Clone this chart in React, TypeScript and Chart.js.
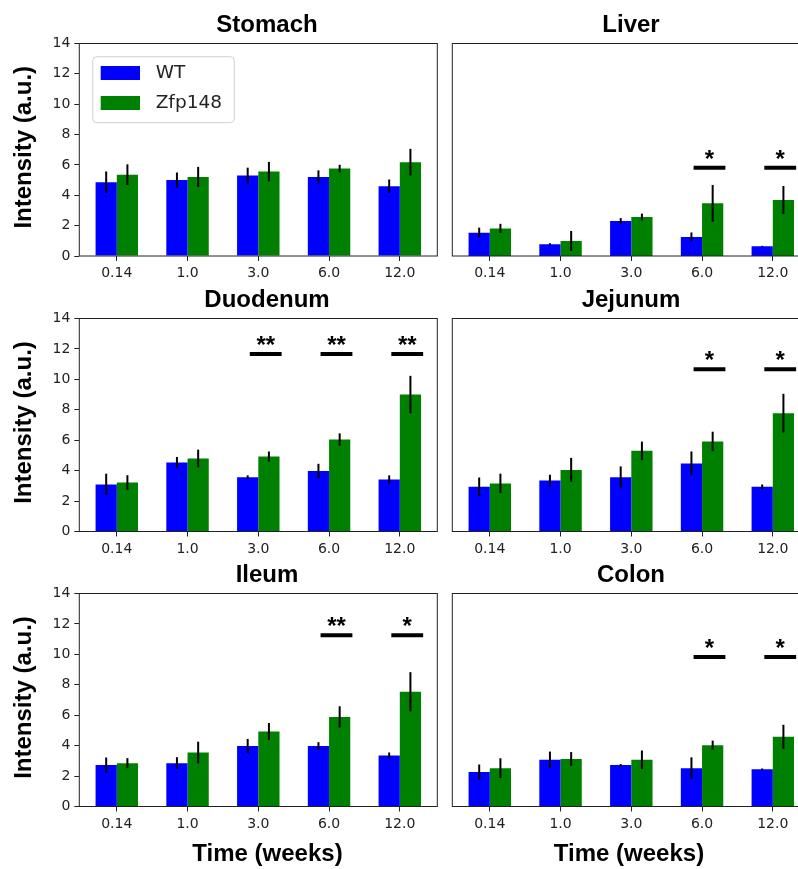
import React, { useEffect, useRef } from "react";
import { Chart, registerables } from "chart.js";

Chart.register(...registerables);

// ---------- data ----------
const timeLabels = ["0.14", "1.0", "3.0", "6.0", "12.0"];
const yTickValues = [0, 2, 4, 6, 8, 10, 12, 14];
const seriesNames = ["WT", "Zfp148"];

const stomachWT = [4.86, 5.0, 5.3, 5.21, 4.6];
const stomachWTErr = [0.71, 0.5, 0.52, 0.43, 0.44];
const stomachZfp = [5.36, 5.21, 5.56, 5.76, 6.18];
const stomachZfpErr = [0.68, 0.66, 0.64, 0.25, 0.88];
const stomachSig = ["", "", "", "", ""];

const liverWT = [1.54, 0.77, 2.31, 1.25, 0.64];
const liverWTErr = [0.33, 0.07, 0.19, 0.3, 0.03];
const liverZfp = [1.82, 0.99, 2.57, 3.47, 3.69];
const liverZfpErr = [0.3, 0.66, 0.22, 1.21, 0.92];
const liverSig = ["", "", "", "*", "*"];
const liverSigY = 5.82;

const duodenumWT = [3.09, 4.54, 3.57, 3.97, 3.42];
const duodenumWTErr = [0.71, 0.36, 0.12, 0.48, 0.27];
const duodenumZfp = [3.22, 4.8, 4.93, 6.05, 9.0];
const duodenumZfpErr = [0.48, 0.58, 0.33, 0.4, 1.23];
const duodenumSig = ["", "", "**", "**", "**"];
const duodenumSigY = 11.66;

const jejunumWT = [2.94, 3.35, 3.57, 4.47, 2.94];
const jejunumWTErr = [0.61, 0.38, 0.71, 0.79, 0.15];
const jejunumZfp = [3.16, 4.05, 5.3, 5.92, 7.78];
const jejunumZfpErr = [0.64, 0.79, 0.61, 0.64, 1.27];
const jejunumSig = ["", "", "", "*", "*"];
const jejunumSigY = 10.67;

const ileumWT = [2.72, 2.85, 3.97, 3.97, 3.35];
const ileumWTErr = [0.5, 0.39, 0.47, 0.26, 0.2];
const ileumZfp = [2.85, 3.55, 4.93, 5.89, 7.54];
const ileumZfpErr = [0.33, 0.71, 0.56, 0.7, 1.29];
const ileumSig = ["", "", "", "**", "*"];
const ileumSigY = 11.26;

const colonWT = [2.26, 3.07, 2.72, 2.52, 2.45];
const colonWTErr = [0.5, 0.54, 0.07, 0.71, 0.05];
const colonZfp = [2.52, 3.13, 3.07, 4.03, 4.58];
const colonZfpErr = [0.65, 0.45, 0.61, 0.3, 0.79];
const colonSig = ["", "", "", "*", "*"];
const colonSigY = 9.82;

const yAxisLabel = "Intensity (a.u.)";
const xAxisLabel = "Time (weeks)";

// ---------- styling / layout ----------
const WT_COLOR = "#0000ff";
const ZFP_COLOR = "#008000";
const TICK_FONT = "DejaVu Sans";
const BOLD_FONT = "Liberation Sans";

type Panel = {
  title: string;
  wt: number[];
  wtErr: number[];
  zfp: number[];
  zfpErr: number[];
  sig: string[];
  sigY: number;
  row: number;
  col: number;
  legend?: boolean;
};

const panels: Panel[] = [
  { title: "Stomach", wt: stomachWT, wtErr: stomachWTErr, zfp: stomachZfp, zfpErr: stomachZfpErr, sig: stomachSig, sigY: 0, row: 0, col: 0, legend: true },
  { title: "Liver", wt: liverWT, wtErr: liverWTErr, zfp: liverZfp, zfpErr: liverZfpErr, sig: liverSig, sigY: liverSigY, row: 0, col: 1 },
  { title: "Duodenum", wt: duodenumWT, wtErr: duodenumWTErr, zfp: duodenumZfp, zfpErr: duodenumZfpErr, sig: duodenumSig, sigY: duodenumSigY, row: 1, col: 0 },
  { title: "Jejunum", wt: jejunumWT, wtErr: jejunumWTErr, zfp: jejunumZfp, zfpErr: jejunumZfpErr, sig: jejunumSig, sigY: jejunumSigY, row: 1, col: 1 },
  { title: "Ileum", wt: ileumWT, wtErr: ileumWTErr, zfp: ileumZfp, zfpErr: ileumZfpErr, sig: ileumSig, sigY: ileumSigY, row: 2, col: 0 },
  { title: "Colon", wt: colonWT, wtErr: colonWTErr, zfp: colonZfp, zfpErr: colonZfpErr, sig: colonSig, sigY: colonSigY, row: 2, col: 1 },
];

const colCanvasLeft = [0, 445];
const colCanvasWidth = [445, 367];
const colPlotLeft = [79.3, 452.3];
const PLOT_W = 358;
const colTextCenter = [267, 631];

const rowCanvasTop = [0, 280, 560];
const rowCanvasHeight = [285, 290, 309];
const rowPlotTop = [43.5, 318.5, 593.5];
const rowPlotBottom = [256, 531.5, 806.5];

function PanelChart({ p }: { p: Panel }) {
  const ref = useRef<HTMLCanvasElement | null>(null);
  const cLeft = colCanvasLeft[p.col];
  const cW = colCanvasWidth[p.col];
  const cTop = rowCanvasTop[p.row];
  const cH = rowCanvasHeight[p.row];

  useEffect(() => {
    const canvas = ref.current;
    if (!canvas) return;
    const padLeft = p.col === 0 ? 0 : colPlotLeft[p.col] - cLeft;
    const yWidth = p.col === 0 ? colPlotLeft[0] : 0;
    const padRight = cLeft + cW - (colPlotLeft[p.col] + PLOT_W);
    const padTop = rowPlotTop[p.row] - cTop;
    const xHeight = cTop + cH - rowPlotBottom[p.row];

    const overlay = {
      id: "overlay" + p.title,
      afterDatasetsDraw(chart: any) {
        const ctx = chart.ctx as CanvasRenderingContext2D;
        const ys = chart.scales.y;
        const errs = [p.wtErr, p.zfpErr];
        const vals = [p.wt, p.zfp];
        ctx.save();
        ctx.strokeStyle = "#000";
        ctx.lineWidth = 2;
        ctx.lineCap = "butt";
        for (let d = 0; d < 2; d++) {
          const meta = chart.getDatasetMeta(d);
          meta.data.forEach((el: any, i: number) => {
            const v = vals[d][i];
            const e = errs[d][i];
            ctx.beginPath();
            ctx.moveTo(el.x, ys.getPixelForValue(v + e));
            ctx.lineTo(el.x, ys.getPixelForValue(v - e));
            ctx.stroke();
          });
        }
        ctx.restore();
      },
      afterDraw(chart: any) {
        const ctx = chart.ctx as CanvasRenderingContext2D;
        const xs = chart.scales.x;
        const ys = chart.scales.y;
        const a = chart.chartArea;
        ctx.save();
        // frame
        ctx.strokeStyle = "#222";
        ctx.lineWidth = 1;
        ctx.strokeRect(a.left, a.top, a.right - a.left, a.bottom - a.top);

        // significance markers
        p.sig.forEach((s, i) => {
          if (!s) return;
          const x0 = xs.getPixelForValue(i - 0.12);
          const x1 = xs.getPixelForValue(i + 0.33);
          const y = ys.getPixelForValue(p.sigY);
          ctx.strokeStyle = "#000";
          ctx.lineWidth = 4;
          ctx.lineCap = "butt";
          ctx.beginPath();
          ctx.moveTo(x0, y);
          ctx.lineTo(x1, y);
          ctx.stroke();
          ctx.fillStyle = "#000";
          ctx.font = `bold 24px "${BOLD_FONT}"`;
          ctx.textAlign = "center";
          ctx.textBaseline = "alphabetic";
          ctx.fillText(s, (x0 + x1) / 2, y - 1);
        });

        // legend
        if (p.legend) {
          const bx = a.left + 13.4;
          const by = a.top + 13.2;
          const bw = 141.6;
          const bh = 66;
          const r = 4;
          ctx.beginPath();
          ctx.moveTo(bx + r, by);
          ctx.lineTo(bx + bw - r, by);
          ctx.quadraticCurveTo(bx + bw, by, bx + bw, by + r);
          ctx.lineTo(bx + bw, by + bh - r);
          ctx.quadraticCurveTo(bx + bw, by + bh, bx + bw - r, by + bh);
          ctx.lineTo(bx + r, by + bh);
          ctx.quadraticCurveTo(bx, by + bh, bx, by + bh - r);
          ctx.lineTo(bx, by + r);
          ctx.quadraticCurveTo(bx, by, bx + r, by);
          ctx.closePath();
          ctx.fillStyle = "rgba(255,255,255,0.8)";
          ctx.fill();
          ctx.strokeStyle = "#d0d0d0";
          ctx.lineWidth = 1;
          ctx.stroke();
          const colors = [WT_COLOR, ZFP_COLOR];
          seriesNames.forEach((name, k) => {
            const py = by + 9.3 + k * 30;
            ctx.fillStyle = colors[k];
            ctx.fillRect(bx + 8, py, 39.3, 14);
            ctx.fillStyle = "#222";
            ctx.font = `18.5px "${TICK_FONT}"`;
            ctx.textAlign = "left";
            ctx.textBaseline = "middle";
            ctx.fillText(name, bx + 63, py + 7.5);
          });
        }

        // title
        ctx.fillStyle = "#000";
        ctx.font = `bold 24px "${BOLD_FONT}"`;
        ctx.textAlign = "center";
        ctx.textBaseline = "alphabetic";
        const tx = colTextCenter[p.col] - cLeft;
        ctx.fillText(p.title, tx, a.top - 11.7);

        // y label
        if (p.col === 0) {
          ctx.save();
          ctx.translate(31, (a.top + a.bottom) / 2 - 2.5);
          ctx.rotate(-Math.PI / 2);
          ctx.textAlign = "center";
          ctx.textBaseline = "alphabetic";
          ctx.fillText(yAxisLabel, 0, 0);
          ctx.restore();
        }
        // x label
        if (p.row === 2) {
          const lx = (p.col === 0 ? 267.5 : 629) - cLeft;
          ctx.fillText(xAxisLabel, lx, a.bottom + 54.5);
        }
        ctx.restore();
      },
    };

    const chart = new Chart(canvas, {
      type: "bar",
      data: {
        datasets: [
          {
            label: seriesNames[0],
            data: p.wt.map((v, i) => ({ x: i, y: v })),
            backgroundColor: WT_COLOR,
            borderWidth: 0,
            categoryPercentage: 0.6,
            barPercentage: 1,
          },
          {
            label: seriesNames[1],
            data: p.zfp.map((v, i) => ({ x: i, y: v })),
            backgroundColor: ZFP_COLOR,
            borderWidth: 0,
            categoryPercentage: 0.6,
            barPercentage: 1,
          },
        ],
      } as any,
      options: {
        responsive: false,
        animation: false,
        devicePixelRatio: 1,
        events: [],
        layout: { padding: { left: padLeft, right: padRight, top: padTop, bottom: 0 } },
        plugins: {
          legend: { display: false },
          title: { display: false },
          tooltip: { enabled: false },
        },
        scales: {
          x: {
            type: "linear",
            min: -0.53,
            max: 4.53,
            offset: false,
            afterBuildTicks: (axis: any) => {
              axis.ticks = timeLabels.map((_, i) => ({ value: i }));
            },
            afterFit: (axis: any) => {
              axis.height = xHeight;
            },
            ticks: {
              callback: (v: any) => timeLabels[v] ?? "",
              autoSkip: false,
              maxRotation: 0,
              minRotation: 0,
              font: { family: TICK_FONT, size: 14 },
              color: "#222",
              padding: 4,
            },
            grid: {
              display: true,
              drawOnChartArea: false,
              drawTicks: true,
              tickLength: 5,
              color: "#222",
              offset: false,
            },
            border: { display: false },
          },
          y: {
            min: 0,
            max: 14,
            display: p.col === 0,
            afterBuildTicks: (axis: any) => {
              axis.ticks = yTickValues.map((v) => ({ value: v }));
            },
            afterFit: (axis: any) => {
              axis.width = yWidth;
            },
            ticks: {
              font: { family: TICK_FONT, size: 14 },
              color: "#222",
              padding: 4,
            },
            grid: {
              display: true,
              drawOnChartArea: false,
              drawTicks: true,
              tickLength: 5,
              color: "#222",
            },
            border: { display: false },
          },
        },
      } as any,
      plugins: [overlay],
    });
    return () => chart.destroy();
  }, [p]);

  return (
    <canvas
      ref={ref}
      width={cW}
      height={cH}
      style={{ position: "absolute", left: cLeft, top: cTop, width: cW, height: cH, display: "block" }}
    />
  );
}

export default function App() {
  return (
    <div
      style={{
        position: "fixed",
        left: 0,
        top: 0,
        width: 798,
        height: 869,
        overflow: "hidden",
        background: "#fff",
      }}
    >
      {panels.map((p) => (
        <PanelChart key={p.title} p={p} />
      ))}
    </div>
  );
}
